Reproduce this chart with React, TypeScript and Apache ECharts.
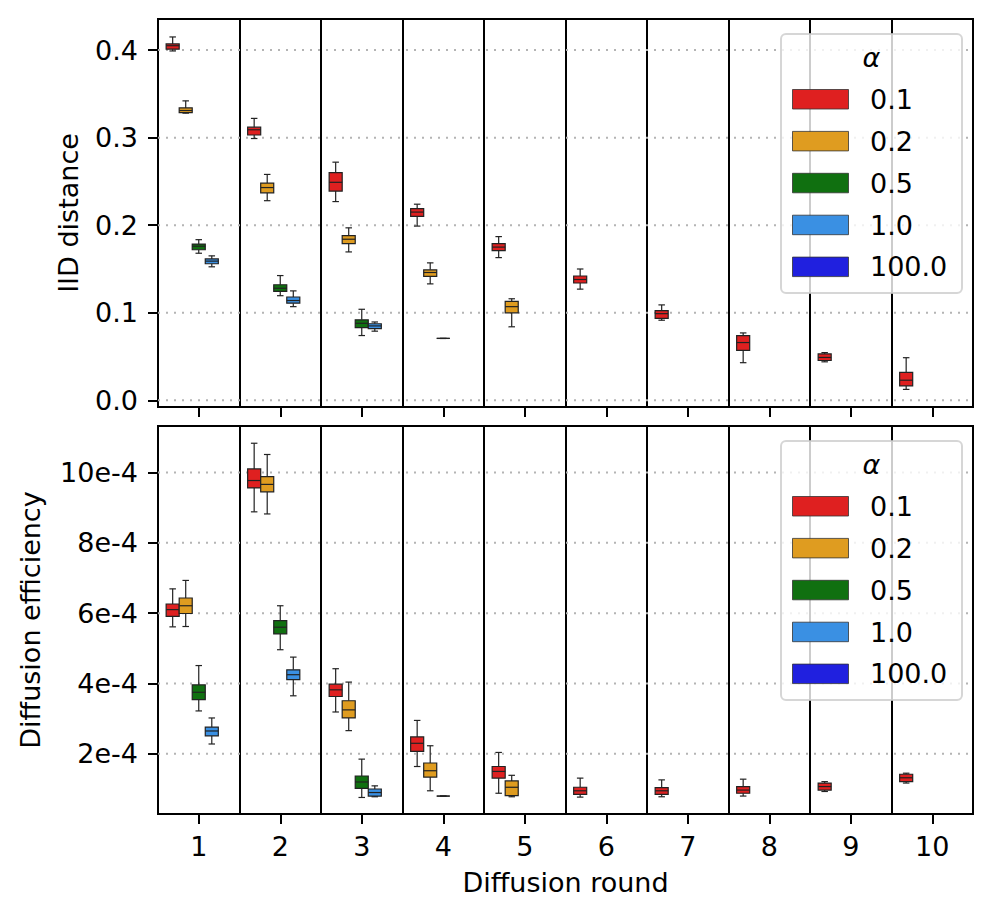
import React, { useEffect, useRef } from 'react';
import * as echarts from 'echarts';

const ROUNDS = ['1', '2', '3', '4', '5', '6', '7', '8', '9', '10'];
const ALPHAS = ['0.1', '0.2', '0.5', '1.0', '100.0'];
const COLORS = ['#df2020', '#df9c20', '#107010', '#3a90e3', '#2020df'];

// IID distance, rows: [round, min, q1, median, q3, max]
const IID_A01 = [
  [1, 0.399, 0.401, 0.405, 0.407, 0.415],
  [2, 0.299, 0.303, 0.309, 0.312, 0.322],
  [3, 0.227, 0.239, 0.249, 0.260, 0.272],
  [4, 0.199, 0.210, 0.215, 0.219, 0.224],
  [5, 0.163, 0.171, 0.175, 0.179, 0.187],
  [6, 0.127, 0.134, 0.138, 0.142, 0.150],
  [7, 0.0915, 0.0935, 0.099, 0.1025, 0.109],
  [8, 0.043, 0.057, 0.066, 0.074, 0.077],
  [9, 0.044, 0.0455, 0.049, 0.053, 0.0545],
  [10, 0.0125, 0.0165, 0.023, 0.032, 0.0487],
];
const IID_A02 = [
  [1, 0.328, 0.3285, 0.331, 0.334, 0.342],
  [2, 0.228, 0.237, 0.243, 0.248, 0.258],
  [3, 0.1695, 0.179, 0.184, 0.188, 0.197],
  [4, 0.133, 0.1415, 0.146, 0.149, 0.157],
  [5, 0.084, 0.100, 0.107, 0.113, 0.116],
];
const IID_A05 = [
  [1, 0.168, 0.172, 0.176, 0.1785, 0.1835],
  [2, 0.1195, 0.1245, 0.128, 0.132, 0.1425],
  [3, 0.074, 0.083, 0.088, 0.092, 0.104],
  [4, 0.0707, 0.0707, 0.0707, 0.0707, 0.0707],
];
const IID_A10 = [
  [1, 0.1525, 0.156, 0.159, 0.1615, 0.165],
  [2, 0.107, 0.111, 0.114, 0.118, 0.125],
  [3, 0.079, 0.082, 0.085, 0.0875, 0.0895],
];
const IID_A100: number[][] = [];
const IID_TICKS = [0, 0.1, 0.2, 0.3, 0.4];

// Diffusion efficiency in units of 1e-4, rows: [round, min, q1, median, q3, max]
const EFF_A01 = [
  [1, 5.61, 5.91, 6.10, 6.26, 6.69],
  [2, 8.88, 9.56, 9.77, 10.10, 10.83],
  [3, 3.19, 3.63, 3.82, 3.98, 4.42],
  [4, 1.64, 2.07, 2.30, 2.48, 2.95],
  [5, 0.88, 1.31, 1.50, 1.64, 2.04],
  [6, 0.77, 0.85, 0.95, 1.05, 1.31],
  [7, 0.78, 0.85, 0.95, 1.04, 1.26],
  [8, 0.80, 0.88, 0.97, 1.07, 1.28],
  [9, 0.93, 0.97, 1.07, 1.17, 1.21],
  [10, 1.17, 1.21, 1.32, 1.42, 1.45],
];
const EFF_A02 = [
  [1, 5.62, 5.99, 6.21, 6.43, 6.93],
  [2, 8.82, 9.45, 9.66, 9.88, 10.51],
  [3, 2.66, 3.02, 3.25, 3.51, 4.04],
  [4, 0.95, 1.34, 1.52, 1.74, 2.23],
  [5, 0.78, 0.81, 1.05, 1.23, 1.39],
];
const EFF_A05 = [
  [1, 3.22, 3.54, 3.75, 3.96, 4.51],
  [2, 4.96, 5.41, 5.60, 5.79, 6.21],
  [3, 0.76, 1.02, 1.20, 1.37, 1.85],
  [4, 0.80, 0.80, 0.80, 0.80, 0.80],
];
const EFF_A10 = [
  [1, 2.28, 2.51, 2.65, 2.76, 3.02],
  [2, 3.65, 4.11, 4.25, 4.39, 4.75],
  [3, 0.78, 0.80, 0.90, 1.00, 1.09],
];
const EFF_A100: number[][] = [];
const EFF_TICKS = [2, 4, 6, 8, 10];

const IID_SETS = [IID_A01, IID_A02, IID_A05, IID_A10, IID_A100];
const EFF_SETS = [EFF_A01, EFF_A02, EFF_A05, EFF_A10, EFF_A100];

const FONT = 'DejaVu Sans';
const FS = 27;
const EDGE = '#222222';

function boxSeries(name: string, rows: number[][], h: number, gi: number, color: string) {
  return {
    type: 'custom',
    name,
    xAxisIndex: gi,
    yAxisIndex: gi,
    z: 3,
    silent: true,
    data: rows.map((r) => [ROUNDS[r[0] - 1], r[1], r[2], r[3], r[4], r[5]]),
    encode: { x: 0, y: [1, 2, 3, 4, 5] },
    renderItem: (params: any, api: any) => {
      const cat = api.value(0);
      const band = api.size([1, 0])[0];
      const slot = band * 0.16;
      const cx = api.coord([cat, api.value(3)])[0] + (h - 2) * slot;
      const yy = (d: number) => api.coord([cat, api.value(d)])[1];
      const yMin = yy(1), yQ1 = yy(2), yMed = yy(3), yQ3 = yy(4), yMax = yy(5);
      const half = slot / 2;
      const cap = slot / 4;
      const ls = { stroke: EDGE, lineWidth: 1.2 };
      return {
        type: 'group',
        children: [
          { type: 'line', shape: { x1: cx, y1: yQ3, x2: cx, y2: yMax }, style: ls },
          { type: 'line', shape: { x1: cx, y1: yQ1, x2: cx, y2: yMin }, style: ls },
          { type: 'line', shape: { x1: cx - cap, y1: yMax, x2: cx + cap, y2: yMax }, style: ls },
          { type: 'line', shape: { x1: cx - cap, y1: yMin, x2: cx + cap, y2: yMin }, style: ls },
          {
            type: 'rect',
            shape: { x: cx - half, y: yQ3, width: slot, height: yQ1 - yQ3 },
            style: { fill: color, stroke: EDGE, lineWidth: 1.2 },
          },
          { type: 'line', shape: { x1: cx - half, y1: yMed, x2: cx + half, y2: yMed }, style: ls },
        ],
      };
    },
  };
}

function gridLineSeries(ticks: number[], gi: number) {
  return {
    type: 'custom',
    xAxisIndex: gi,
    yAxisIndex: gi,
    z: 1,
    silent: true,
    data: ticks.map((t) => [ROUNDS[0], t]),
    encode: { x: 0, y: 1 },
    renderItem: (params: any, api: any) => {
      const cs = params.coordSys;
      const y = api.coord([0, api.value(1)])[1];
      return {
        type: 'line',
        shape: { x1: cs.x, y1: y, x2: cs.x + cs.width, y2: y },
        style: { stroke: '#b4b4b4', lineWidth: 2, lineDash: [2, 6] },
      };
    },
  };
}

function legendGraphic(off: number) {
  const els: any[] = [
    {
      type: 'rect',
      z: 100,
      shape: { x: 781, y: 34 + off, width: 181, height: 259, r: 5 },
      style: { fill: 'rgba(255,255,255,0.8)', stroke: 'rgba(204,204,204,0.8)', lineWidth: 2 },
    },
    {
      type: 'text',
      z: 101,
      x: 871.5,
      y: 57 + off,
      style: {
        text: 'α',
        fontSize: FS,
        fontStyle: 'italic',
        fontFamily: FONT,
        fill: '#000',
        align: 'center',
        verticalAlign: 'middle',
      },
    },
  ];
  ALPHAS.forEach((a, i) => {
    els.push({
      type: 'rect',
      z: 101,
      shape: { x: 792.5, y: 89.5 + 41.9 * i + off, width: 56, height: 19.5 },
      style: { fill: COLORS[i], stroke: '#333', lineWidth: 0.8 },
    });
    els.push({
      type: 'text',
      z: 101,
      x: 870,
      y: 99.3 + 41.9 * i + off,
      style: {
        text: a,
        fontSize: FS,
        fontFamily: FONT,
        fill: '#000',
        align: 'left',
        verticalAlign: 'middle',
      },
    });
  });
  return els;
}

const GRID_TOP = [19, 426];
const GRID_H = 388;

export default function App() {
  const ref = useRef<HTMLDivElement>(null);
  useEffect(() => {
    if (!ref.current) return;
    const chart = echarts.init(ref.current, undefined, { renderer: 'svg' });
    const axisLine = { show: true, onZero: false, lineStyle: { color: '#000', width: 2 } };
    const tick = { show: true, length: 10, lineStyle: { color: '#000', width: 2 } };
    const label = { fontSize: FS, color: '#000', fontFamily: FONT };
    const nameStyle = { fontSize: FS, color: '#000', fontFamily: FONT };

    const series: any[] = [gridLineSeries(IID_TICKS, 0), gridLineSeries(EFF_TICKS, 1)];
    ALPHAS.forEach((a, h) => {
      series.push(boxSeries(a, IID_SETS[h], h, 0, COLORS[h]));
      series.push(boxSeries(a, EFF_SETS[h], h, 1, COLORS[h]));
    });

    const option: any = {
      animation: false,
      backgroundColor: '#ffffff',
      textStyle: { fontFamily: FONT },
      grid: GRID_TOP.map((t) => ({
        left: 158,
        top: t,
        width: 815,
        height: GRID_H,
        show: true,
        backgroundColor: '#ffffff',
        borderColor: '#000',
        borderWidth: 2,
      })),
      xAxis: [0, 1].map((i) => ({
        type: 'category',
        gridIndex: i,
        position: 'bottom',
        data: ROUNDS,
        boundaryGap: true,
        axisLine,
        axisTick: { ...tick, alignWithLabel: true, interval: 0 },
        axisLabel: { ...label, show: i === 1, interval: 0, margin: 19 },
        splitLine: { show: true, interval: 0, lineStyle: { color: '#000', width: 2 } },
        name: i === 1 ? 'Diffusion round' : '',
        nameLocation: 'middle',
        nameGap: 55,
        nameTextStyle: nameStyle,
      })),
      yAxis: [
        {
          type: 'value',
          gridIndex: 0,
          min: -0.0076,
          max: 0.4355,
          axisLine,
          axisTick: { ...tick, customValues: IID_TICKS },
          axisLabel: {
            ...label,
            margin: 20,
            customValues: IID_TICKS,
            formatter: (v: number) => v.toFixed(1),
          },
          splitLine: { show: false },
          name: 'IID distance',
          nameLocation: 'middle',
          nameGap: 76,
          nameTextStyle: nameStyle,
        },
        {
          type: 'value',
          gridIndex: 1,
          min: 0.29,
          max: 11.32,
          axisLine,
          axisTick: { ...tick, customValues: EFF_TICKS },
          axisLabel: {
            ...label,
            margin: 20,
            customValues: EFF_TICKS,
            formatter: (v: number) => `${Math.round(v)}e-4`,
          },
          splitLine: { show: false },
          name: 'Diffusion efficiency',
          nameLocation: 'middle',
          nameGap: 114,
          nameTextStyle: nameStyle,
        },
      ],
      graphic: [...legendGraphic(0), ...legendGraphic(GRID_TOP[1] - GRID_TOP[0])],
      series,
    };
    chart.setOption(option);
    return () => chart.dispose();
  }, []);
  return (
    <div
      ref={ref}
      style={{ position: 'absolute', left: 0, top: 0, width: 994, height: 921, background: '#fff' }}
    />
  );
}
